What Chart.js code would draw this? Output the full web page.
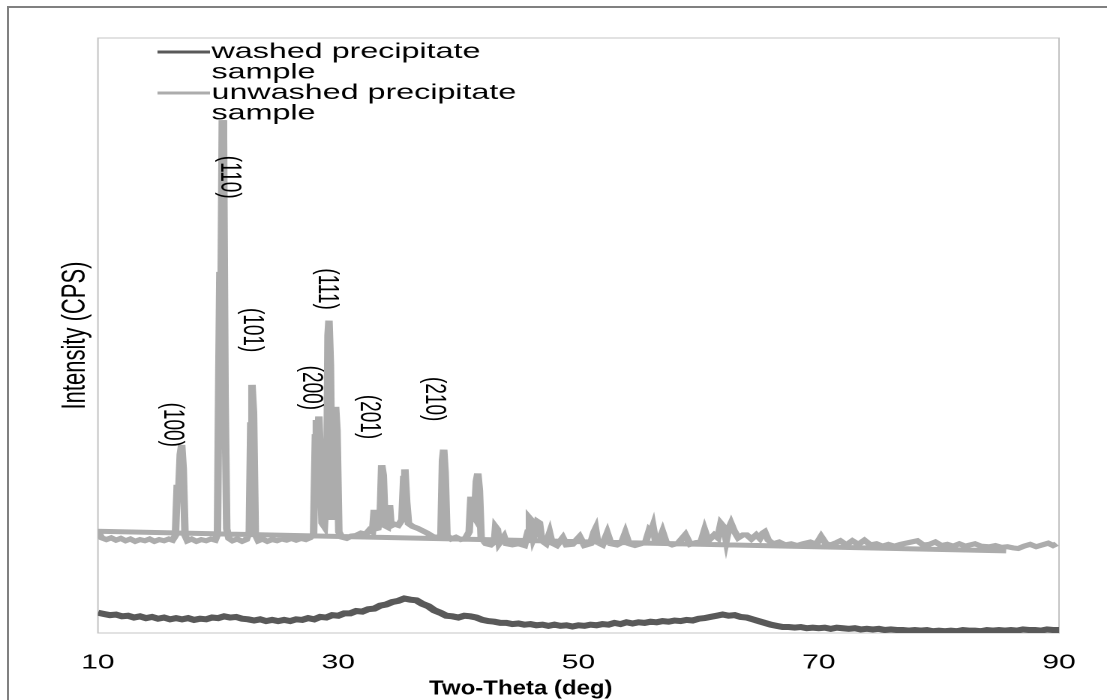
<!DOCTYPE html>
<html>
<head>
<meta charset="utf-8">
<script src="https://cdn.jsdelivr.net/npm/chart.js@4"></script>
<style>
  html, body { margin: 0; padding: 0; background: #fff; overflow: hidden; }
  #frame { position: absolute; left: 7px; top: 6px; width: 1200px; height: 800px;
           border-left: 2px solid #808080; border-top: 2px solid #808080; }
  /* the original picture is stretched sideways, so the canvas is too */
  #wrap { position: absolute; left: 0; top: 0; width: 738px; height: 700px;
          transform: scaleX(1.5); transform-origin: 0 0; }
</style>
</head>
<body>
<div id="frame"></div>
<div id="wrap"><canvas id="xrd" width="738" height="700"></canvas></div>
<script>
// axis ticks and titles
const xTicks = [10, 30, 50, 70, 90];
const xTitle = 'Two-Theta (deg)';
const yTitle = 'Intensity (CPS)';

// washed precipitate sample (2-theta, intensity)
const washedTheta = [10,10.5,11,11.5,12,12.5,13,13.5,14,14.5,15,15.5,16,16.5,17,17.5,18,18.5,19,19.5,
  20,20.5,21,21.5,22,22.5,23,23.5,24,24.5,25,25.5,26,26.5,27,27.5,28,28.5,29,29.5,
  30,30.5,31,31.5,32,32.5,33,33.5,34,34.5,35,35.5,36,36.5,37,37.5,38,38.5,39,39.5,
  40,40.5,41,41.5,42,42.5,43,43.5,44,44.5,45,45.5,46,46.5,47,47.5,48,48.5,49,49.5,
  50,50.5,51,51.5,52,52.5,53,53.5,54,54.5,55,55.5,56,56.5,57,57.5,58,58.5,59,59.5,
  60,60.5,61,61.5,62,62.5,63,63.5,64,64.5,65,65.5,66,66.5,67,67.5,68,68.5,69,69.5,
  70,70.5,71,71.5,72,72.5,73,73.5,74,74.5,75,75.5,76,76.5,77,77.5,78,78.5,79,79.5,
  80,80.5,81,81.5,82,82.5,83,83.5,84,84.5,85,85.5,86,86.5,87,87.5,88,88.5,89,89.5,90];
const washedCps = [3.4,3.2,3.0,3.1,2.8,2.9,2.6,2.8,2.5,2.7,2.4,2.6,2.3,2.5,2.3,2.5,2.2,2.4,2.3,2.6,
  2.5,2.8,2.6,2.7,2.4,2.3,2.1,2.3,2.0,2.2,2.0,2.2,2.0,2.3,2.2,2.5,2.3,2.7,2.6,3.0,
  2.9,3.3,3.3,3.7,3.6,4.0,4.1,4.6,4.8,5.2,5.4,5.8,5.6,5.5,4.9,4.5,3.8,3.4,2.9,2.8,
  2.6,2.9,2.8,2.6,2.2,2.0,1.9,1.7,1.7,1.5,1.6,1.4,1.5,1.3,1.4,1.2,1.4,1.2,1.3,1.1,
  1.3,1.2,1.4,1.3,1.5,1.4,1.7,1.5,1.8,1.6,1.8,1.7,1.9,1.8,2.0,1.9,2.1,2.0,2.2,2.1,
  2.4,2.5,2.7,2.9,3.1,2.9,3.0,2.7,2.6,2.3,2.0,1.7,1.4,1.2,1.0,1.0,0.9,1.0,0.8,0.9,
  0.8,0.9,0.7,0.9,0.8,0.7,0.8,0.6,0.7,0.6,0.7,0.5,0.6,0.5,0.5,0.4,0.5,0.4,0.5,0.3,
  0.4,0.3,0.4,0.3,0.5,0.4,0.4,0.3,0.5,0.4,0.5,0.4,0.5,0.4,0.6,0.5,0.5,0.4,0.6,0.5,0.5];

// unwashed precipitate sample (the trace starts with the stray return stroke)
const unwashedTheta = [85.6,10.0,10.3,10.7,11.1,11.5,11.9,12.3,12.7,13.1,13.5,13.9,14.3,14.7,15.1,15.5,15.9,16.2,
  16.45,16.6,16.72,16.85,16.97,17.1,17.25,17.45,17.8,18.2,18.6,19.0,19.4,19.75,19.95,20.07,20.15,20.25,20.35,
  20.45,20.58,20.72,20.9,21.2,21.6,22.0,22.35,22.6,22.72,22.82,22.95,23.1,23.35,23.7,24.1,24.5,24.9,25.3,25.7,
  26.1,26.5,26.9,27.3,27.65,27.95,28.1,28.18,28.3,28.39,28.5,28.65,28.85,29.05,29.15,29.23,29.35,29.5,29.65,
  29.78,29.9,30.05,30.3,30.7,31.1,31.5,31.9,32.3,32.6,32.85,33.0,33.1,33.3,33.5,33.62,33.75,33.9,34.1,34.27,
  34.4,34.7,35.0,35.3,35.45,35.55,35.7,35.85,36.2,36.6,37.0,37.4,37.8,38.2,38.55,38.68,38.78,38.9,39.05,39.4,
  39.8,40.2,40.6,40.9,41.05,41.2,41.35,41.5,41.62,41.75,41.9,42.3,42.7,43.0,43.1,43.25,43.4,43.8,44.0,44.5,
  45.0,45.5,45.8,45.92,46.05,46.25,46.45,46.6,46.75,46.95,47.3,47.6,47.8,48.2,48.7,49.0,49.5,50.1,50.5,51.0,
  51.3,51.42,51.6,52.0,52.4,52.7,53.2,53.6,53.9,54.2,54.7,55.2,55.6,55.9,56.05,56.2,56.4,56.7,57.0,57.3,57.8,
  58.3,58.9,59.3,59.8,60.2,60.5,60.8,61.3,61.6,61.85,62.1,62.3,62.5,62.7,62.95,63.3,63.7,64.0,64.4,64.8,65.1,
  65.35,65.5,65.8,66.2,66.7,67.2,67.7,68.2,68.7,69.3,69.8,70.2,70.6,71.0,71.5,71.8,72.3,72.8,73.3,73.8,74.3,
  74.8,75.3,75.8,76.3,76.8,77.5,78.2,78.7,79.2,79.7,80.2,80.7,81.2,81.7,82.2,82.6,83.0,83.5,84.2,84.7,85.2,
  85.7,86.2,86.6,87.1,87.6,88.1,88.6,89.1,89.5,89.8];
const unwashedCps = [13.8,17.1,16.0,15.7,16.0,15.6,15.9,15.5,15.8,15.4,15.7,15.5,15.8,15.4,15.7,15.5,15.8,15.6,
  16.4,24.9,23.5,30.0,31.6,27.5,16.4,15.5,15.8,15.4,15.7,15.5,15.8,15.6,16.6,45.0,60.7,57.0,86.2,
  84.0,40.0,17.5,15.9,15.5,15.8,15.4,15.7,17.0,35.0,41.7,37.0,16.6,15.5,15.8,15.4,15.7,15.5,15.8,15.6,
  15.9,15.6,15.9,15.7,16.0,16.6,33.0,35.8,33.0,36.4,30.0,18.5,17.9,25.0,50.0,52.5,45.0,19.0,30.0,
  38.0,34.0,17.0,16.1,15.9,16.3,16.4,16.8,16.6,17.3,17.0,20.7,17.5,17.6,20.0,28.2,26.5,18.0,17.8,21.5,
  18.0,18.3,18.1,19.0,26.0,27.5,22.0,18.4,17.9,17.6,17.2,16.8,16.3,16.0,16.4,29.0,30.8,27.0,16.4,15.8,
  16.1,15.7,15.9,17.0,22.9,20.0,19.5,25.5,26.8,24.0,16.0,15.0,14.8,15.3,17.8,17.4,15.1,16.2,15.0,14.8,
  15.0,14.7,17.0,19.3,19.0,16.0,17.0,18.7,18.5,15.5,15.0,16.8,15.1,14.7,16.0,14.8,14.9,16.2,14.7,15.0,
  17.0,17.5,15.2,14.8,16.8,15.0,14.8,15.2,16.8,15.0,14.7,15.0,15.3,17.3,17.0,17.9,15.6,15.4,17.0,15.2,14.8,
  15.1,16.5,14.9,15.2,15.3,17.3,15.5,16.5,16.0,18.4,17.8,15.6,17.5,18.4,17.2,16.0,16.5,16.5,15.8,16.5,15.9,
  16.8,17.0,15.6,15.0,15.3,14.8,15.0,14.7,15.0,15.3,14.9,16.2,15.0,14.8,15.2,15.5,14.8,15.5,14.9,15.6,14.8,
  15.0,14.6,14.9,14.6,14.9,15.2,15.5,14.8,14.9,15.3,14.7,14.9,14.6,15.0,14.6,14.8,15.0,14.6,14.5,14.7,14.4,
  14.5,14.3,14.2,14.6,14.9,14.5,14.8,15.1,14.7,15.0];

// reflection labels
const peakLabels = ['(100)', '(110)', '(101)', '(200)', '(111)', '(201)', '(210)'];
const peakTheta = [16.15, 20.89, 22.8, 27.71, 29.04, 32.53, 37.93];
const peakCps = [35.0, 76.6, 50.9, 41.2, 57.8, 36.3, 39.3];

const FONT = '"Liberation Sans", Arial, sans-serif';
Chart.defaults.font.family = FONT;
Chart.defaults.color = '#000';

function pairs(xs, ys) { return xs.map((x, i) => ({ x: x, y: ys[i] })); }

// thin frame round the plot area
const plotFrame = {
  id: 'plotFrame',
  beforeDatasetsDraw(chart) {
    const a = chart.chartArea, ctx = chart.ctx;
    ctx.save();
    ctx.strokeStyle = '#c4c4c4';
    ctx.lineWidth = 1;
    ctx.strokeRect(a.left, a.top, a.right - a.left, a.bottom - a.top);
    ctx.restore();
  }
};

// x title sits left of centre in the original, in a narrow bold face
const xTitleText = {
  id: 'xTitleText',
  afterDraw(chart) {
    const ctx = chart.ctx;
    ctx.save();
    ctx.font = 'bold 20px ' + FONT;
    ctx.fillStyle = '#000';
    ctx.textAlign = 'center';
    ctx.textBaseline = 'middle';
    ctx.translate(chart.scales.x.getPixelForValue(45.2), 689);
    ctx.scale(0.8, 1);
    ctx.fillText(xTitle, 0, 0);
    ctx.restore();
  }
};

// rotated hkl labels
const peakText = {
  id: 'peakText',
  afterDatasetsDraw(chart) {
    const ctx = chart.ctx, xs = chart.scales.x, ys = chart.scales.y;
    ctx.save();
    ctx.font = '19px ' + FONT;
    ctx.fillStyle = '#000';
    ctx.textAlign = 'center';
    ctx.textBaseline = 'middle';
    peakLabels.forEach((t, i) => {
      ctx.save();
      ctx.translate(xs.getPixelForValue(peakTheta[i]), ys.getPixelForValue(peakCps[i]));
      ctx.rotate(Math.PI / 2);
      ctx.fillText(t, 0, 0);
      ctx.restore();
    });
    ctx.restore();
  }
};

// legend with wrapped labels, like the original
const wrappedLegend = {
  id: 'wrappedLegend',
  afterDraw(chart) {
    const ctx = chart.ctx;
    ctx.save();
    ctx.font = '21.5px ' + FONT;
    ctx.textBaseline = 'middle';
    let y = 52;
    chart.data.datasets.forEach(ds => {
      ctx.strokeStyle = ds.borderColor;
      ctx.lineWidth = 3;
      ctx.beginPath(); ctx.moveTo(105, y); ctx.lineTo(140, y); ctx.stroke();
      const lines = [];
      let cur = '';
      ds.label.split(' ').forEach(w => {
        const test = cur ? cur + ' ' + w : w;
        if (ctx.measureText(test).width > 215 && cur) { lines.push(cur); cur = w; } else cur = test;
      });
      lines.push(cur);
      ctx.fillStyle = '#000';
      lines.forEach((l, i) => ctx.fillText(l, 141, y + i * 20.5));
      y += 41;
    });
    ctx.restore();
  }
};

new Chart(document.getElementById('xrd'), {
  type: 'line',
  data: {
    datasets: [
      { label: 'washed precipitate sample', data: pairs(washedTheta, washedCps),
        borderColor: '#595959', borderWidth: 6, pointRadius: 0, tension: 0 },
      { label: 'unwashed precipitate sample', data: pairs(unwashedTheta, unwashedCps),
        borderColor: '#acacac', borderWidth: 5, pointRadius: 0, tension: 0 }
    ]
  },
  options: {
    responsive: false,
    animation: false,
    devicePixelRatio: 2,
    layout: { padding: { top: 38, right: 32, left: 0, bottom: 0 } },
    plugins: { legend: { display: false }, tooltip: { enabled: false } },
    scales: {
      x: {
        type: 'linear', min: 10, max: 90,
        afterBuildTicks: s => { s.ticks = xTicks.map(v => ({ value: v })); },
        afterFit: s => { s.height = 67; },
        grid: { display: false, drawTicks: false },
        border: { display: false },
        ticks: { padding: 18, font: { size: 20 }, color: '#000', maxRotation: 0 },
        title: { display: false }
      },
      y: {
        min: 0, max: 100,
        afterFit: s => { s.width = 65.3; },
        grid: { display: false, drawTicks: false },
        border: { display: false },
        ticks: { display: false },
        title: { display: true, text: yTitle, font: { size: 22 },
                 padding: { top: 37, bottom: 0 } }
      }
    }
  },
  plugins: [plotFrame, peakText, xTitleText, wrappedLegend]
});
</script>
</body>
</html>
